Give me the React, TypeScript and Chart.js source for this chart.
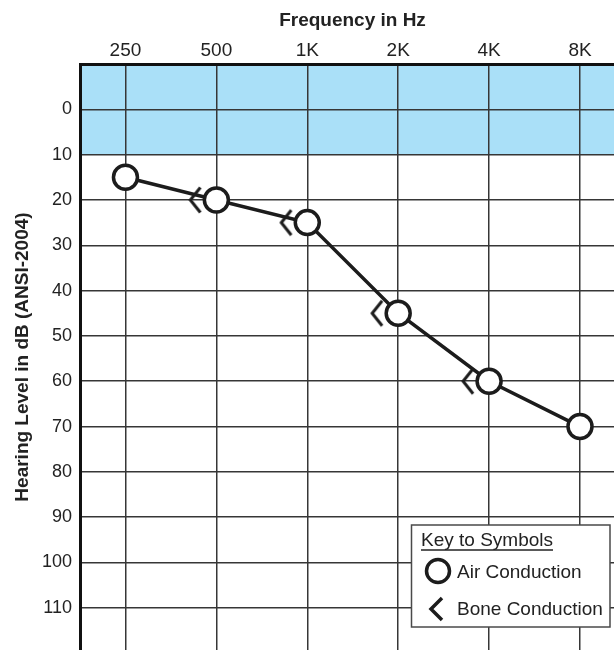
import React, { useEffect, useRef } from 'react';
import { Chart, registerables } from 'chart.js';

Chart.register(...registerables);

// ---- data ----
const frequencyLabels = ['250', '500', '1K', '2K', '4K', '8K'];
const hearingLevelTicks = [0, 10, 20, 30, 40, 50, 60, 70, 80, 90, 100, 110];
const airConduction = [15, 20, 25, 45, 60, 70];
const boneConduction: (number | null)[] = [null, 20, 25, 45, 60, null];
const normalBand = [-10, 10];

const FONT = "'Liberation Sans', Arial, Helvetica, sans-serif";
const INK = '#1c1c1c';

function makeBoneSymbol(): HTMLCanvasElement {
  const c = document.createElement('canvas');
  c.width = 64;
  c.height = 40;
  const ctx = c.getContext('2d')!;
  ctx.strokeStyle = INK;
  ctx.lineWidth = 3;
  ctx.lineJoin = 'miter';
  ctx.beginPath();
  ctx.moveTo(32 - 16, 20 - 12.5);
  ctx.lineTo(32 - 26, 20);
  ctx.lineTo(32 - 16, 20 + 12.5);
  ctx.stroke();
  return c;
}

const bandPlugin = {
  id: 'normalBand',
  beforeDraw(chart: any) {
    const { ctx, chartArea, scales } = chart;
    const y0 = scales.y.getPixelForValue(normalBand[0]);
    const y1 = scales.y.getPixelForValue(normalBand[1]);
    ctx.save();
    ctx.fillStyle = '#aae0f8';
    ctx.fillRect(chartArea.left, Math.min(y0, y1), chartArea.right - chartArea.left, Math.abs(y1 - y0));
    ctx.restore();
  },
};

const decorPlugin = {
  id: 'decor',
  afterDraw(chart: any) {
    const { ctx } = chart;
    ctx.save();
    // x title
    ctx.font = `bold 19px ${FONT}`;
    ctx.fillStyle = '#222';
    ctx.textAlign = 'center';
    ctx.textBaseline = 'alphabetic';
    ctx.fillText('Frequency in Hz', 352.5, 26);

    // legend box
    ctx.fillStyle = '#ffffff';
    ctx.fillRect(411.5, 525, 198.5, 102);
    ctx.strokeStyle = '#4a4a4a';
    ctx.lineWidth = 1.5;
    ctx.strokeRect(411.5, 525, 198.5, 102);

    ctx.fillStyle = '#222';
    ctx.textAlign = 'left';
    ctx.font = `19px ${FONT}`;
    ctx.fillText('Key to Symbols', 421, 546);
    const w = ctx.measureText('Key to Symbols').width;
    ctx.strokeStyle = '#222';
    ctx.lineWidth = 1.3;
    ctx.beginPath();
    ctx.moveTo(421, 550);
    ctx.lineTo(421 + w, 550);
    ctx.stroke();

    ctx.fillText('Air Conduction', 457, 578);
    ctx.fillText('Bone Conduction', 457, 615);

    ctx.strokeStyle = INK;
    ctx.lineWidth = 3.5;
    ctx.beginPath();
    ctx.arc(438, 571, 11.5, 0, Math.PI * 2);
    ctx.stroke();

    ctx.beginPath();
    ctx.moveTo(442, 598);
    ctx.lineTo(431, 609);
    ctx.lineTo(442, 620);
    ctx.stroke();
    ctx.restore();
  },
};

export default function App() {
  const ref = useRef<HTMLCanvasElement>(null);

  useEffect(() => {
    if (!ref.current) return;
    const boneImg = makeBoneSymbol();
    const airData = airConduction.map((v, i) => ({ x: i, y: v }));
    const boneData = boneConduction
      .map((v, i) => (v === null ? null : { x: i, y: v }))
      .filter((p) => p !== null);

    const chart = new Chart(ref.current, {
      type: 'scatter',
      data: {
        datasets: [
          {
            label: 'Air Conduction',
            data: airData as any,
            showLine: true,
            borderColor: INK,
            borderWidth: 3.5,
            pointRadius: 12,
            pointBorderWidth: 3.5,
            pointBackgroundColor: '#ffffff',
            pointBorderColor: INK,
            pointStyle: 'circle',
          },
          {
            label: 'Bone Conduction',
            data: boneData as any,
            showLine: false,
            pointRadius: 5,
            pointStyle: boneImg as any,
          },
        ],
      },
      plugins: [bandPlugin, decorPlugin],
      options: {
        responsive: false,
        animation: false,
        layout: { padding: 0, autoPadding: false },
        plugins: {
          legend: { display: false },
          tooltip: { enabled: false },
          title: { display: false },
        },
        scales: {
          x: {
            type: 'linear',
            position: 'top',
            min: -0.5,
            max: 5.374,
            afterBuildTicks: (scale: any) => {
              scale.ticks = frequencyLabels.map((_, i) => ({ value: i }));
            },
            afterFit: (scale: any) => {
              scale.height = 64;
              scale.paddingLeft = 0;
              scale.paddingRight = 0;
            },
            ticks: {
              callback: (v: any) => frequencyLabels[v] ?? '',
              font: { family: FONT, size: 19 },
              color: '#222',
              padding: 2,
              maxRotation: 0,
              autoSkip: false,
            },
            grid: { color: '#363636', lineWidth: 1.5, drawTicks: false },
            border: { display: true, color: '#111', width: 3 },
          },
          y: {
            type: 'linear',
            reverse: true,
            min: -10,
            max: 119.3,
            afterBuildTicks: (scale: any) => {
              scale.ticks = hearingLevelTicks.map((v) => ({ value: v }));
            },
            afterFit: (scale: any) => {
              scale.width = 80;
              scale.paddingTop = 0;
              scale.paddingBottom = 0;
            },
            ticks: {
              callback: (v: any) => String(v),
              font: { family: FONT, size: 18 },
              color: '#222',
              padding: 8,
              autoSkip: false,
            },
            grid: { color: '#363636', lineWidth: 1.5, drawTicks: false },
            border: { display: true, color: '#111', width: 3 },
            title: {
              display: true,
              text: 'Hearing Level in dB (ANSI-2004)',
              font: { family: FONT, size: 19, weight: 'bold' },
              color: '#222',
              padding: { top: 11, bottom: 0 },
            },
          },
        },
      },
    });
    return () => chart.destroy();
  }, []);

  return (
    <div style={{ position: 'absolute', left: 0, top: 0, width: 614, height: 650 }}>
      <canvas ref={ref} width={614} height={650} />
    </div>
  );
}
